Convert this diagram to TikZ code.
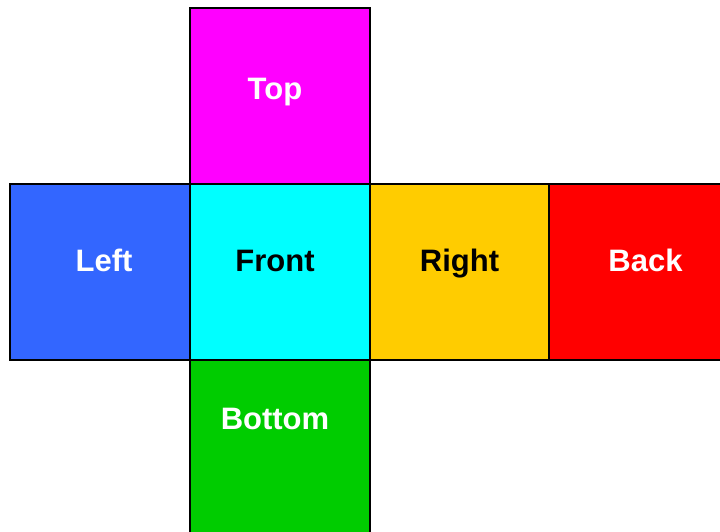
\documentclass[tikz,border=0pt]{standalone}
\usepackage{fontspec}
\setmainfont{Liberation Sans}
\definecolor{ctop}{HTML}{FF00FF}
\definecolor{cleft}{HTML}{3366FF}
\definecolor{cfront}{HTML}{00FFFF}
\definecolor{cright}{HTML}{FFCC00}
\definecolor{cback}{HTML}{FF0000}
\definecolor{cbottom}{HTML}{00CC00}
\begin{document}
\begin{tikzpicture}[x=1pt,y=-1pt,
  face/.style={draw=black,line width=2pt,minimum width=180pt,minimum height=176pt,inner sep=0pt,outer sep=0pt,anchor=north west},
  lbl/.style={font=\fontsize{31}{36}\selectfont\bfseries,anchor=base,inner sep=0pt}]
\useasboundingbox (0,0) rectangle (720,531);
\clip (0,0) rectangle (720,531);
\node[face,fill=ctop] (top) at (190,8) {};
\node[face,fill=cleft] (left) at (10,184) {};
\node[face,fill=cfront] (front) at (190,184) {};
\node[face,fill=cright] (right) at (370,184) {};
\node[face,fill=cback] (back) at (549,184) {};
\node[face,fill=cbottom] (bottom) at (190,360) {};
\node[lbl,white] (ttop) at (275,99) {Top};
\node[lbl,white] (tleft) at (104,271) {Left};
\node[lbl,black] (tfront) at (275,271) {Front};
\node[lbl,black] (tright) at (459.5,271) {Right};
\node[lbl,white] (tback) at (645.5,271) {Back};
\node[lbl,white] (tbottom) at (275,429) {Bottom};
\end{tikzpicture}
\end{document}
